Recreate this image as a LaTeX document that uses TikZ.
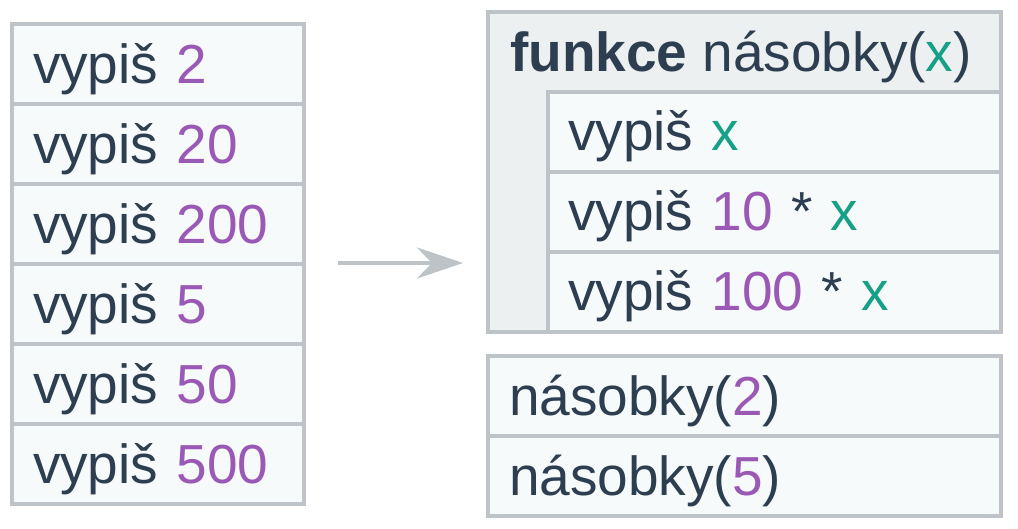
\documentclass[tikz,border=0pt]{standalone}
\usepackage{fontspec}
\setmainfont{Liberation Sans}
\usetikzlibrary{arrows.meta,calc}
\definecolor{ink}{HTML}{2C3E50}
\definecolor{num}{HTML}{9B59B6}
\definecolor{var}{HTML}{16A085}
\definecolor{edge}{HTML}{BDC3C7}
\definecolor{rowfill}{HTML}{F7FAFB}
\definecolor{headfill}{HTML}{ECF0F1}
\newcommand{\Num}[1]{\textcolor{num}{#1}}
\newcommand{\Var}[1]{\textcolor{var}{#1}}
\begin{document}
\begin{tikzpicture}[x=1pt,y=1pt,
  cell/.style={draw=edge, line width=4pt, fill=rowfill, anchor=north west,
    outer sep=0pt, inner xsep=21pt, inner ysep=0pt, text height=59pt, text depth=21pt,
    align=left, font=\fontsize{55}{60}\selectfont, text=ink},
  leftcell/.style={cell, text width=250pt},
  innercell/.style={cell, inner xsep=20pt, text width=413pt, text height=58pt, text depth=22pt},
  callcell/.style={cell, text width=471pt},
  funcbox/.style={draw=edge, line width=4pt, fill=headfill, anchor=north west,
    outer sep=0pt, inner sep=0pt, minimum width=513pt, minimum height=320pt},
  headtext/.style={anchor=base west, inner sep=0pt, font=\fontsize{55}{60}\selectfont, text=ink},
  flow/.style={draw=edge, line width=4.5pt, -{Stealth[length=46pt,width=31pt,inset=15pt]}}
]
\useasboundingbox (0,0) rectangle (1018,-528);
% left column
\node[leftcell] (l1) at (12,-24) {vypiš \Num{2}};
\node[leftcell] (l2) at (l1.south west) {vypiš \Num{20}};
\node[leftcell] (l3) at (l2.south west) {vypiš \Num{200}};
\node[leftcell] (l4) at (l3.south west) {vypiš \Num{5}};
\node[leftcell] (l5) at (l4.south west) {vypiš \Num{50}};
\node[leftcell] (l6) at (l5.south west) {vypiš \Num{500}};
% function box
\node[funcbox] (fbox) at (488,-12) {};
\node[headtext] (fhead) at ($(fbox.north west)+(22,-59)$) {\textbf{funkce} násobky(\Var{x})};
\node[innercell] (f1) at ($(fbox.north west)+(60,-80)$) {vypiš \Var{x}};
\node[innercell] (f2) at (f1.south west) {vypiš \Num{10} * \Var{x}};
\node[innercell] (f3) at (f2.south west) {vypiš \Num{100} * \Var{x}};
% calls
\node[callcell] (c1) at (488,-356) {násobky(\Num{2})};
\node[callcell] (c2) at (c1.south west) {násobky(\Num{5})};
% arrow
\coordinate (a1) at (338,-263);
\coordinate (a2) at (463,-263);
\draw[flow] (a1) -- (a2);
\end{tikzpicture}
\end{document}
